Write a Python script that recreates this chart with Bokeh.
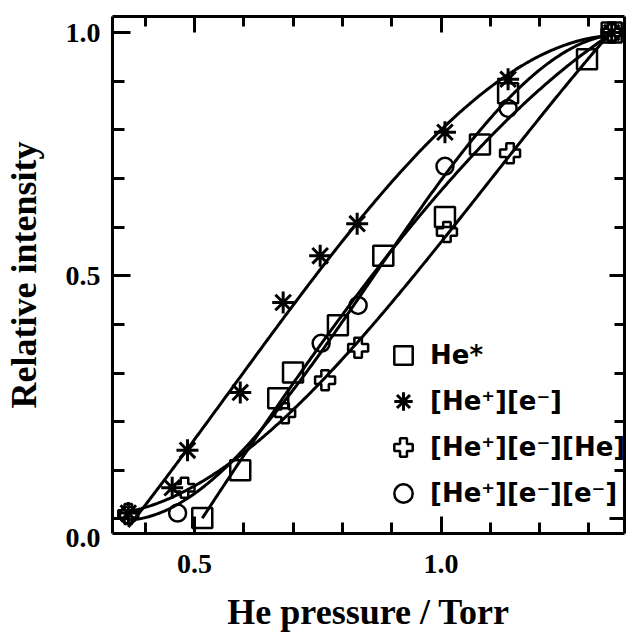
import numpy as np
from bokeh.plotting import figure
from bokeh.models import LinearAxis, FixedTicker, Legend, LegendItem
from bokeh.embed import file_html
from bokeh.resources import INLINE

# ---- data ----
he_star_x = [0.516, 0.593, 0.670, 0.700, 0.791, 0.883, 1.008, 1.079, 1.136, 1.296, 1.346]
he_star_y = [0.002, 0.100, 0.248, 0.301, 0.398, 0.541, 0.621, 0.770, 0.875, 0.945, 1.000]

ion_e_x = [0.366, 0.455, 0.486, 0.593, 0.680, 0.755, 0.830, 1.008, 1.136, 1.346]
ion_e_y = [0.012, 0.064, 0.141, 0.260, 0.445, 0.541, 0.607, 0.795, 0.904, 1.000]

ion_e_he_x = [0.366, 0.480, 0.684, 0.765, 0.832, 1.012, 1.140, 1.346]
ion_e_he_y = [0.010, 0.064, 0.217, 0.285, 0.352, 0.590, 0.752, 1.000]

ion_e_e_x = [0.366, 0.466, 0.757, 0.832, 1.008, 1.136, 1.346]
ion_e_e_y = [0.008, 0.012, 0.361, 0.439, 0.725, 0.844, 1.000]

labels = ["He*", "[He\u207a][e\u207b]", "[He\u207a][e\u207b][He]", "[He\u207a][e\u207b][e\u207b]"]

x_major = [0.5, 1.0]
x_minor = [0.4, 0.6, 0.7, 0.8, 0.9, 1.1, 1.2, 1.3]
y_major = [0.0, 0.5, 1.0]
y_minor = [0.1, 0.2, 0.3, 0.4, 0.6, 0.7, 0.8, 0.9]
x_tick_text = {0.5: "0.5", 1.0: "1.0"}
y_tick_text = {0.0: "\n0.0", 0.5: "0.5", 1.0: "1.0"}

SERIF = "Liberation Serif"

p = figure(width=626, height=640, x_range=(0.334, 1.372), y_range=(-0.030, 1.033),
           output_backend="svg", toolbar_location=None,
           min_border_left=112, min_border_right=2, min_border_top=16, min_border_bottom=107)
p.grid.visible = False
p.outline_line_color = None
p.background_fill_color = "white"


def style_axis(ax, ticks, minors, tin, tmin, show_labels):
    ax.ticker = FixedTicker(ticks=ticks, minor_ticks=minors)
    ax.axis_line_width = 3
    ax.axis_line_color = "black"
    ax.major_tick_line_width = 3
    ax.minor_tick_line_width = 3
    ax.major_tick_line_color = "black"
    ax.minor_tick_line_color = "black"
    ax.major_tick_in = tin
    ax.major_tick_out = 0
    ax.minor_tick_in = tmin
    ax.minor_tick_out = 0
    ax.major_label_text_font = SERIF
    ax.major_label_text_font_style = "bold"
    ax.major_label_text_color = "black"
    if show_labels:
        ax.major_label_text_font_size = "28px"
    else:
        ax.major_label_overrides = {t: "" for t in ticks}
        ax.major_label_text_font_size = "0px"
        ax.major_label_standoff = 0


xb = p.xaxis[0]
style_axis(xb, x_major, x_minor, 17, 11, True)
xb.major_label_overrides = x_tick_text
xb.major_label_standoff = 21
xb.axis_label = "He pressure / Torr"
xb.axis_label_text_font = SERIF
xb.axis_label_text_font_style = "bold"
xb.axis_label_text_font_size = "36px"
xb.axis_label_text_color = "black"
xb.axis_label_standoff = 16

yl = p.yaxis[0]
style_axis(yl, y_major, y_minor, 18, 12, True)
yl.major_label_overrides = y_tick_text
yl.major_label_standoff = 12
yl.axis_label = "Relative intensity"
yl.axis_label_text_font = SERIF
yl.axis_label_text_font_style = "bold"
yl.axis_label_text_font_size = "36px"
yl.axis_label_text_color = "black"
yl.axis_label_standoff = 19

xt = LinearAxis()
style_axis(xt, x_major, x_minor, 16, 10, False)
p.add_layout(xt, "above")

yr = LinearAxis()
style_axis(yr, y_major, y_minor, 15, 10, False)
p.add_layout(yr, "right")


def fit_line(xs, ys, deg):
    xx = np.linspace(min(xs), max(xs), 300)
    yy = np.polyval(np.polyfit(xs, ys, deg), xx)
    p.line(xx, yy, line_color="black", line_width=3)


fit_line(he_star_x, he_star_y, 3)
fit_line(ion_e_x, ion_e_y, 3)
fit_line(ion_e_he_x, ion_e_he_y, 3)
fit_line(ion_e_e_x, ion_e_e_y, 3)

r_sq = p.scatter(he_star_x, he_star_y, marker="square", size=20, fill_color=None,
                 line_color="black", line_width=2.5)
r_as = p.scatter(ion_e_x, ion_e_y, marker="asterisk", size=22,
                 line_color="black", line_width=3)
r_pl = p.scatter(ion_e_he_x, ion_e_he_y, marker="plus", size=20, fill_color=None,
                 line_color="black", line_width=2.5)
r_ci = p.scatter(ion_e_e_x, ion_e_e_y, marker="circle", size=17, fill_color=None,
                 line_color="black", line_width=2.5)

legend = Legend(items=[LegendItem(label=labels[0], renderers=[r_sq]),
                       LegendItem(label=labels[1], renderers=[r_as]),
                       LegendItem(label=labels[2], renderers=[r_pl]),
                       LegendItem(label=labels[3], renderers=[r_ci])],
                location=(268, 17), glyph_width=46, glyph_height=46, spacing=0,
                padding=0, margin=0, label_standoff=4,
                label_text_font="DejaVu Sans", label_text_font_style="bold",
                label_text_font_size="26px", label_text_color="black",
                border_line_color=None, background_fill_alpha=0)
p.add_layout(legend, "center")

open("out.html", "w").write(file_html(p, INLINE))
